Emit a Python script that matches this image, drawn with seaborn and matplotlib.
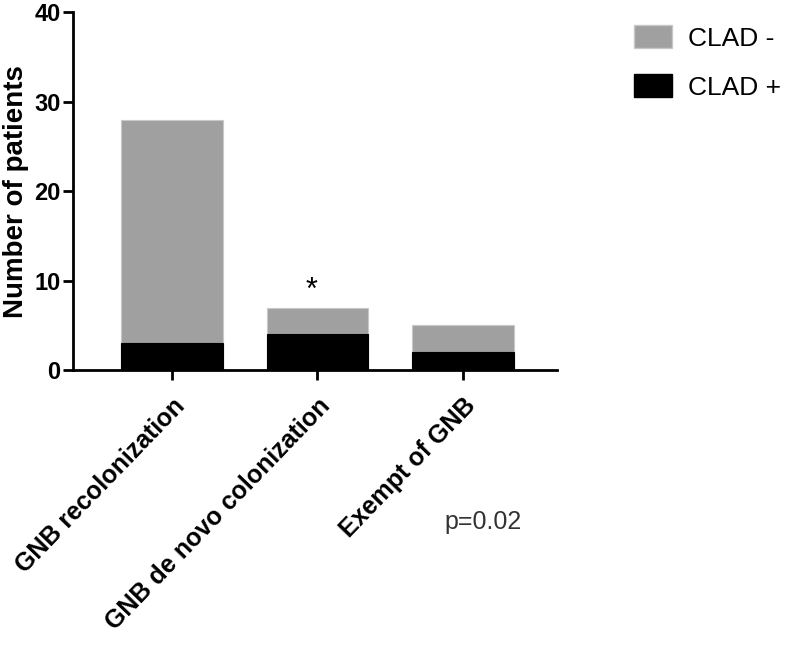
import matplotlib
matplotlib.use("Agg")
import matplotlib.pyplot as plt
import seaborn as sns
import pandas as pd
from matplotlib.patches import Patch

# data
groups = ["GNB recolonization", "GNB de novo colonization", "Exempt of GNB"]
clad_pos = [3, 4, 2]
clad_neg = [25, 3, 3]
total = [p + n for p, n in zip(clad_pos, clad_neg)]

df = pd.DataFrame({"group": groups, "total": total, "clad_pos": clad_pos})

sns.set_style("ticks")
plt.rcParams['font.family'] = ['Liberation Sans', 'DejaVu Sans']
plt.rcParams.update({"text.color": "black", "axes.labelcolor": "black",
                     "xtick.color": "black", "ytick.color": "black",
                     "axes.edgecolor": "black"})

fig = plt.figure(figsize=(7.87, 6.45), dpi=100)
ax = fig.add_axes([0.093, 0.426, 0.615, 0.555])

gray = "#a0a0a0"
# total height in gray, CLAD+ part drawn over it in black
sns.barplot(data=df, x="group", y="total", color=gray, width=0.7,
            saturation=1, edgecolor="#c8c8c8", linewidth=0.8, ax=ax)
sns.barplot(data=df, x="group", y="clad_pos", color="black", width=0.7,
            saturation=1, edgecolor="black", linewidth=0.8, ax=ax)

ax.set_ylim(0, 40)
ax.set_xlim(-0.68, 2.65)
ax.set_yticks([0, 10, 20, 30, 40])
ax.set_xlabel("")
ax.set_ylabel("Number of patients", fontsize=20, fontweight="bold", labelpad=4)

for s in ["top", "right"]:
    ax.spines[s].set_visible(False)
for s in ["left", "bottom"]:
    ax.spines[s].set_linewidth(2)
ax.tick_params(axis="both", width=2, length=7, direction="out")
ax.tick_params(axis="y", labelsize=17, pad=2)
ax.tick_params(axis="x", labelsize=18, pad=10)
for lab in ax.get_yticklabels():
    lab.set_fontweight("bold")
ax.set_xticks(range(len(groups)))
ax.set_xticklabels(groups, rotation=46, ha="right", va="top",
                   rotation_mode="anchor", fontweight="bold")

ax.text(1 - 0.04, 8.9, "*", ha="center", va="center", fontsize=22)
fig.text(0.614, 0.19, "p=0.02", fontsize=18, color="#333333",
         ha="center", va="center")

handles = [Patch(facecolor=gray, edgecolor="#c8c8c8", label="CLAD -"),
           Patch(facecolor="black", edgecolor="black", label="CLAD +")]
fig.legend(handles=handles, loc="upper left", bbox_to_anchor=(0.805, 0.961),
           frameon=False, fontsize=19, handlelength=1.45, handleheight=0.95,
           labelspacing=0.9, handletextpad=0.62, borderpad=0,
           borderaxespad=0)

fig.savefig("out.png", dpi=100)
